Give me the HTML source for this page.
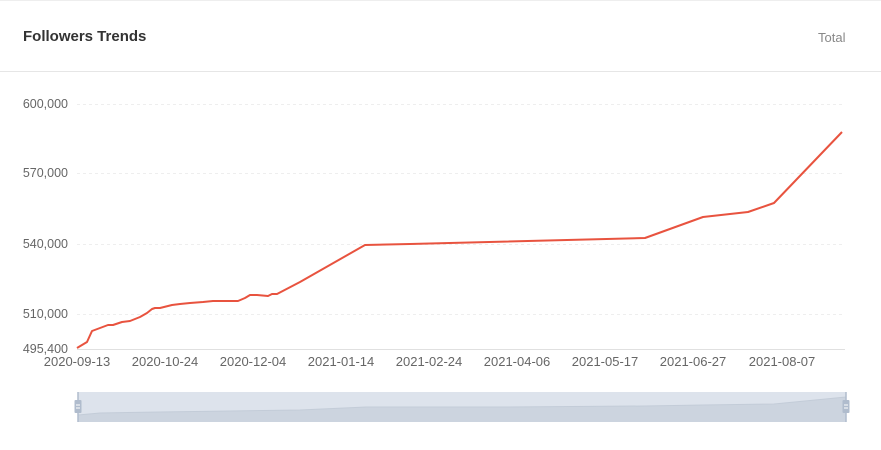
<!DOCTYPE html>
<html><head><meta charset="utf-8"><style>
html,body{margin:0;padding:0;background:#fff;}
body{width:881px;height:450px;overflow:hidden;position:relative;font-family:"Liberation Sans",sans-serif;}
</style></head><body>
<svg width="881" height="450" viewBox="0 0 881 450" xmlns="http://www.w3.org/2000/svg" style="position:absolute;left:0;top:0">
<rect x="0" y="0" width="881" height="450" fill="#fff"/>
<line x1="0" y1="0.5" x2="881" y2="0.5" stroke="#eeeeee"/>
<line x1="0" y1="71.5" x2="881" y2="71.5" stroke="#e6e6e6"/>
<text x="23" y="41" font-size="15" font-weight="bold" fill="#333" font-family="Liberation Sans, sans-serif">Followers Trends</text>
<text x="818" y="42" font-size="13" fill="#888" font-family="Liberation Sans, sans-serif">Total</text>
<g stroke="#eeeeee" stroke-dasharray="3,3">
<line x1="77" y1="104.5" x2="845" y2="104.5"/>
<line x1="77" y1="173.5" x2="845" y2="173.5"/>
<line x1="77" y1="244.5" x2="845" y2="244.5"/>
<line x1="77" y1="314.5" x2="845" y2="314.5"/>
</g>
<line x1="77" y1="349.5" x2="845" y2="349.5" stroke="#e0e0e0"/>
<g font-size="12.5" fill="#666" text-anchor="end" font-family="Liberation Sans, sans-serif">
<text x="68" y="108">600,000</text>
<text x="68" y="177">570,000</text>
<text x="68" y="248">540,000</text>
<text x="68" y="318">510,000</text>
<text x="68" y="353">495,400</text>
</g>
<g font-size="13" fill="#666" text-anchor="middle" font-family="Liberation Sans, sans-serif">
<text x="77" y="366">2020-09-13</text>
<text x="165" y="366">2020-10-24</text>
<text x="253" y="366">2020-12-04</text>
<text x="341" y="366">2021-01-14</text>
<text x="429" y="366">2021-02-24</text>
<text x="517" y="366">2021-04-06</text>
<text x="605" y="366">2021-05-17</text>
<text x="693" y="366">2021-06-27</text>
<text x="782" y="366">2021-08-07</text>
</g>
<polyline fill="none" stroke="#e8533f" stroke-width="2" stroke-linejoin="round" points="77,348 87,342 92,331 100,328 108,325 113,325 122,322 130,321 140,317 147,313 152,309 155,308 160,308 172,305 180,304 190,303 203,302 213,301 227,301 238,301 245,298 250,295 257,295 268,296 272,294 277,294 300,282 365,245 410,244 645,238 703,217 748,212 774,203 842,132"/>
<!-- data zoom -->
<rect x="78" y="392" width="768" height="30" fill="#dde3ec"/>
<polygon fill="#ccd4df" points="78,415 100,413 160,412 230,411 300,410 366,407 500,407 645,406 703,405 774,404 846,397 846,422 78,422"/>
<polyline fill="none" stroke="#c3ccd8" stroke-width="1" points="78,415 100,413 160,412 230,411 300,410 366,407 500,407 645,406 703,405 774,404 846,397"/>
<line x1="78" y1="392" x2="78" y2="422" stroke="#b0bccd" stroke-width="1.5"/>
<line x1="846" y1="392" x2="846" y2="422" stroke="#b0bccd" stroke-width="1.5"/>
<rect x="74.5" y="400" width="7" height="13" fill="#b0bccd" rx="1"/>
<rect x="842.5" y="400" width="7" height="13" fill="#b0bccd" rx="1"/>
<g stroke="#fff" stroke-width="1">
<line x1="76" y1="405" x2="80" y2="405"/><line x1="76" y1="408" x2="80" y2="408"/>
<line x1="844" y1="405" x2="848" y2="405"/><line x1="844" y1="408" x2="848" y2="408"/>
</g>
</svg>
</body></html>
